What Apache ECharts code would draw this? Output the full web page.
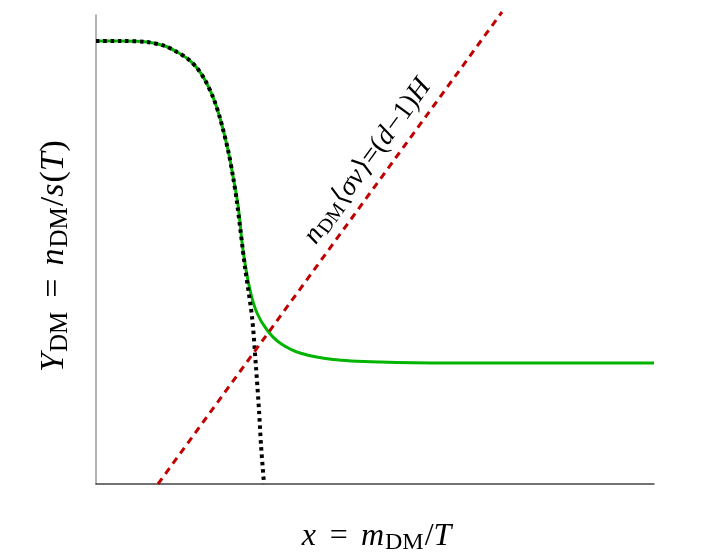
<!DOCTYPE html>
<html>
<head>
<meta charset="utf-8">
<script src="https://cdn.jsdelivr.net/npm/echarts@6/dist/echarts.min.js"></script>
<style>html,body{margin:0;padding:0;background:#fff;}#c{width:726px;height:553px;}</style>
</head>
<body>
<div id="c"></div>
<script>
// Values (arbitrary units, axes 0..10)
const freezeX = [0, 0.43, 0.914, 1.237, 1.452, 1.649, 1.810, 1.953, 2.097, 2.222, 2.366, 2.455, 2.545, 2.634, 2.760, 2.885, 3.065, 3.297, 3.656, 4.247, 5.090, 6.344, 10];
const freezeY = [9.446, 9.446, 9.424, 9.339, 9.211, 9.062, 8.870, 8.614, 8.252, 7.804, 7.122, 6.560, 5.950, 4.989, 4.136, 3.646, 3.284, 3.006, 2.793, 2.655, 2.601, 2.580, 2.580];
const equilX = [0, 0.43, 0.914, 1.237, 1.452, 1.649, 1.810, 1.953, 2.097, 2.222, 2.366, 2.455, 2.527, 2.670, 2.796, 2.867, 2.921, 2.957, 3.011];
const equilY = [9.446, 9.446, 9.424, 9.339, 9.211, 9.062, 8.870, 8.614, 8.252, 7.804, 7.122, 6.560, 6.000, 4.627, 3.561, 2.495, 1.578, 0.832, 0];
const rateX = [1.111, 7.276];
const rateY = [0, 10.064];

const zip = (a, b) => a.map((v, i) => [v, b[i]]);

const chart = echarts.init(document.getElementById('c'));
const serif = '"Liberation Serif", "DejaVu Serif", serif';
function richSet(size, sub, subPad, eqPad) {
  return {
    i: { fontFamily: serif, fontStyle: 'italic', fontSize: size, fill: '#000', padding: [0, 1, 0, 0] },
    r: { fontFamily: serif, fontSize: size, fill: '#000' },
    e: { fontFamily: serif, fontSize: size, fill: '#000', padding: [0, eqPad, 0, eqPad] },
    s: { fontFamily: serif, fontSize: sub, fill: '#000', padding: [subPad, 1, 0, 0] }
  };
}
chart.setOption({
  animation: false,
  backgroundColor: '#fff',
  grid: { left: 96, right: 72, top: 15, bottom: 69 },
  xAxis: {
    type: 'value', min: 0, max: 10,
    axisLine: { show: true, onZero: false, lineStyle: { color: '#444', width: 1.5 } },
    axisTick: { show: false }, axisLabel: { show: false }, splitLine: { show: false }
  },
  yAxis: {
    type: 'value', min: 0, max: 10,
    axisLine: { show: true, onZero: false, lineStyle: { color: '#999', width: 1.5 } },
    axisTick: { show: false }, axisLabel: { show: false }, splitLine: { show: false }
  },
  series: [
    {
      type: 'line', data: zip(freezeX, freezeY), smooth: 0.3, symbol: 'none',
      lineStyle: { color: '#00b400', width: 3 }, z: 2
    },
    {
      type: 'line', data: zip(equilX, equilY), smooth: 0.3, symbol: 'none',
      lineStyle: { color: '#000', width: 4, type: [3.5, 3.8] }, z: 3
    },
    {
      type: 'line', data: zip(rateX, rateY), symbol: 'none', clip: false,
      lineStyle: { color: '#c00000', width: 3, type: [7, 5.6] }, z: 4
    }
  ],
  graphic: [
    {
      type: 'text', x: 377, y: 537,
      style: {
        text: '{i|x}{e|=}{i|m}{s|DM}{r|/}{i|T}',
        align: 'center', verticalAlign: 'middle',
        rich: richSet(32, 24, 12, 13)
      }
    },
    {
      type: 'text', x: 54, y: 256, rotation: Math.PI / 2,
      style: {
        text: '{i|Y}{s|DM}{e|=}{i|n}{s|DM}{r|/}{i|s}{r|(}{i|T}{r|)}',
        align: 'center', verticalAlign: 'middle',
        rich: richSet(34, 25, 13, 13)
      }
    },
    {
      type: 'text', x: 368, y: 161, rotation: 54 * Math.PI / 180,
      style: {
        text: '{i|n}{s|DM}{r|⟨}{i|σv}{r|⟩=(}{i|d}{r|−1)}{i|H}',
        align: 'center', verticalAlign: 'middle',
        rich: richSet(28, 20, 10, 0)
      }
    }
  ]
});
</script>
</body>
</html>
